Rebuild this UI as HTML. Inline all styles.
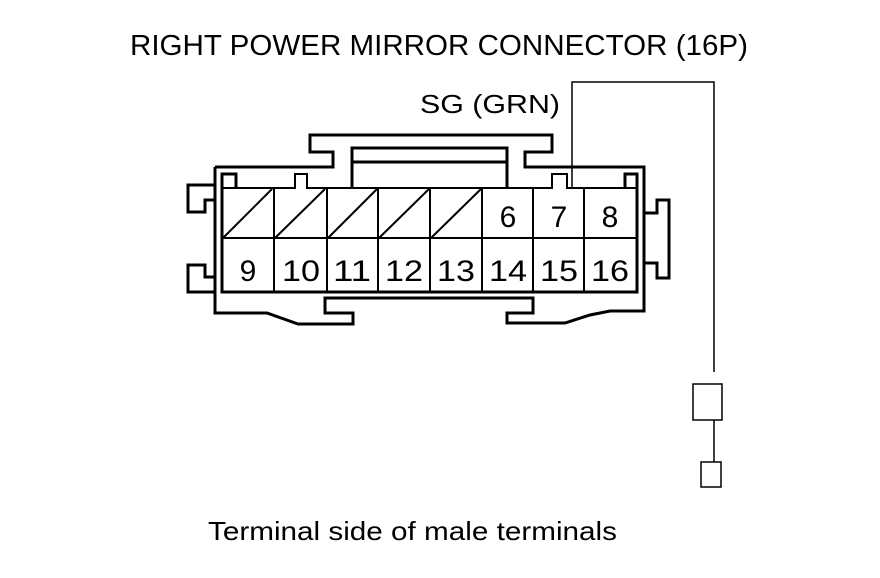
<!DOCTYPE html>
<html><head><style>
html,body{margin:0;padding:0;background:#fff;}
svg{display:block;}
text{font-family:"Liberation Sans",Arial,sans-serif;fill:#000;}
</style></head><body>
<svg width="880" height="578" viewBox="0 0 880 578" xmlns="http://www.w3.org/2000/svg">
<rect width="880" height="578" fill="#fff"/>
<text x="130" y="55" font-size="29" textLength="618" lengthAdjust="spacingAndGlyphs">RIGHT POWER MIRROR CONNECTOR (16P)</text>
<text x="420" y="113" font-size="26" textLength="140" lengthAdjust="spacingAndGlyphs">SG (GRN)</text>
<text x="208" y="540" font-size="26" textLength="409" lengthAdjust="spacingAndGlyphs">Terminal side of male terminals</text>

<g fill="none" stroke="#000" stroke-width="3" stroke-linejoin="miter">
<polyline points="215,167 333,167 333,152 310,152 310,135 552,135 552,152 525,152 525,167 644,167 644,311 610,311 590,315 565,323 507,323 507,313 533,313 533,298 325,298 325,313 353,313 353,324 298,324 267,313 215,313 215,167"/>
<polyline points="215,185 188,185 188,212 205,212 205,200 215,200"/>
<polyline points="215,292 188,292 188,265 205,265 205,277 215,277"/>
<polyline points="644,213 657,213 657,200 669,200 669,278 657,278 657,263 644,263"/>
<polyline points="352,188 352,148 507,148 507,188"/>
<line x1="352" y1="162" x2="507" y2="162"/>
<polyline points="236,188 236,174 222,174 222,292 637,292 637,174 625,174 625,188"/>
</g>
<g fill="none" stroke="#000" stroke-width="2">
<polyline points="222,188 295,188 295,174 307,174 307,188 552,188 552,174 567,174 567,188 637,188"/>
<line x1="222" y1="238" x2="637" y2="238"/>
<line x1="274" y1="188" x2="274" y2="292"/>
<line x1="327" y1="188" x2="327" y2="292"/>
<line x1="378" y1="188" x2="378" y2="292"/>
<line x1="430" y1="188" x2="430" y2="292"/>
<line x1="482" y1="188" x2="482" y2="292"/>
<line x1="533" y1="188" x2="533" y2="292"/>
<line x1="584" y1="188" x2="584" y2="292"/>
<line x1="223" y1="238" x2="272" y2="189"/>
<line x1="275" y1="238" x2="325" y2="189"/>
<line x1="328" y1="238" x2="377" y2="189"/>
<line x1="379" y1="238" x2="429" y2="189"/>
<line x1="431" y1="238" x2="481" y2="189"/>
</g>
<g font-size="30" text-anchor="middle">
<text x="508" y="227">6</text>
<text x="559" y="227">7</text>
<text x="610" y="227">8</text>
<text x="248" y="281">9</text>
<text x="301" y="281" textLength="38" lengthAdjust="spacingAndGlyphs">10</text>
<text x="352" y="281" textLength="38" lengthAdjust="spacingAndGlyphs">11</text>
<text x="404" y="281" textLength="38" lengthAdjust="spacingAndGlyphs">12</text>
<text x="456" y="281" textLength="38" lengthAdjust="spacingAndGlyphs">13</text>
<text x="508" y="281" textLength="38" lengthAdjust="spacingAndGlyphs">14</text>
<text x="559" y="281" textLength="38" lengthAdjust="spacingAndGlyphs">15</text>
<text x="610" y="281" textLength="38" lengthAdjust="spacingAndGlyphs">16</text>
</g>
<g fill="none" stroke="#000" stroke-width="1.5">
<polyline points="572,188 572,82 714,82 714,372"/>
<rect x="693" y="384" width="29" height="36"/>
<line x1="714" y1="420" x2="714" y2="462"/>
<rect x="701" y="462" width="20" height="25"/>
</g>
</svg>
</body></html>
